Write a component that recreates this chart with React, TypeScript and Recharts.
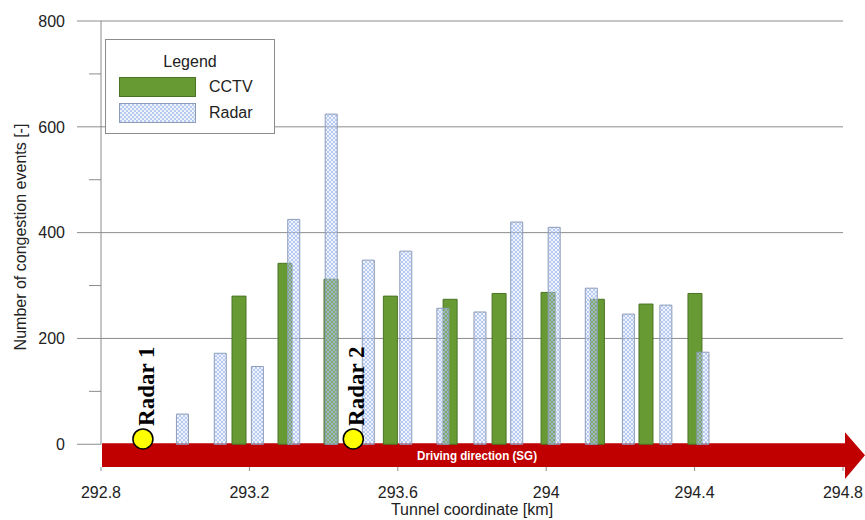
import React from 'react';
import {
  BarChart,
  Bar,
  XAxis,
  YAxis,
  CartesianGrid,
  ReferenceArea,
  ReferenceDot,
  ReferenceLine,
  Legend,
} from 'recharts';

// ---- data ----
const cctvKm = [293.172, 293.296, 293.42, 293.58, 293.741, 293.873, 294.005, 294.138, 294.269, 294.401];
const cctvEvents = [280, 342, 312, 280, 274, 285, 287, 274, 265, 285];

const radarKm = [293.02, 293.122, 293.222, 293.32, 293.421, 293.521, 293.622, 293.722, 293.822, 293.921, 294.022, 294.122, 294.222, 294.323, 294.423];
const radarEvents = [57, 172, 147, 425, 624, 348, 365, 257, 250, 420, 410, 295, 246, 263, 174];

const sensorKm = [292.913, 293.48];
const sensorLabels = ['Radar 1', 'Radar 2'];
const sensorLevel = 10;

const xTicks = [292.8, 293.2, 293.6, 294, 294.4, 294.8];
const yTicks = [0, 100, 200, 300, 400, 500, 600, 700, 800];
const yGridValues = [200, 400, 600, 800];
const xDomain = [292.8, 294.8];
const yDomain = [-43, 800];

const cctvName = 'CCTV';
const radarName = 'Radar';
const legendTitle = 'Legend';
const arrowText = 'Driving direction (SG)';
const xTitle = 'Tunnel coordinate [km]';
const yTitle = 'Number of congestion events [-]';

const rowCount = Math.max(cctvKm.length, radarKm.length);
const rows = Array.from({ length: rowCount }, (_, i) => ({
  kmC: cctvKm[i],
  cctv: cctvEvents[i],
  kmR: radarKm[i],
  radar: radarEvents[i],
}));

const GREEN = '#689a34';
const GREEN_STROKE = '#4b7326';
const RADAR_STROKE = '#8c9cba';
const AXIS_GRAY = '#8c8c8c';
const TEXT = '#222';

const YTick = (props: any) => {
  const { x, y, payload } = props;
  const v = payload.value;
  const major = v % 200 === 0;
  return (
    <g>
      <line x1={x - (major ? 24 : 12)} x2={x} y1={y} y2={y} stroke={AXIS_GRAY} strokeWidth={1} />
      {major && (
        <text x={x - 36} y={y} dy="0.36em" textAnchor="end" fill={TEXT} fontSize={16}>
          {v}
        </text>
      )}
    </g>
  );
};

const YTitle = (props: any) => {
  const vb = props.viewBox || { x: 0, y: 21, width: 101, height: 446 };
  const cx = vb.x + 20;
  const cy = vb.y + vb.height / 2 - 7;
  return (
    <text
      x={cx}
      y={cy}
      transform={`rotate(-90 ${cx} ${cy})`}
      textAnchor="middle"
      dominantBaseline="central"
      fill={TEXT}
      fontSize={16}
    >
      {yTitle}
    </text>
  );
};

const ArrowShape = (props: any) => {
  const { x, y, width, height } = props;
  const top = y - 1;
  const bottom = y + height;
  const right = x + width + 2;
  const tip = right + 20;
  const mid = (top + bottom) / 2;
  const pts = [
    [x + 1, top],
    [right, top],
    [right, top - 11],
    [tip, mid],
    [right, bottom + 12],
    [right, bottom],
    [x + 1, bottom],
  ]
    .map((p) => p.join(','))
    .join(' ');
  return (
    <g>
      <polygon points={pts} fill="#c00000" />
      <text
        x={x + width / 2 + 5}
        y={mid}
        dominantBaseline="central"
        textAnchor="middle"
        fill="#fff"
        fontWeight="bold"
        fontSize={13}
        fontFamily="'Liberation Sans Narrow', 'Arial Narrow', 'Liberation Sans', Arial, sans-serif"
        textLength={120}
        lengthAdjust="spacingAndGlyphs"
      >
        {arrowText}
      </text>
    </g>
  );
};

const makeSensorLabel = (text: string) => (props: any) => {
  const vb = props.viewBox || { x: 0, y: 0, width: 20, height: 20 };
  const cx = vb.x + vb.width / 2;
  const X = cx + 11;
  const Y = vb.y - 3;
  return (
    <text
      x={X}
      y={Y}
      transform={`rotate(-90 ${X} ${Y})`}
      textAnchor="start"
      fill="#000"
      fontSize={23}
      fontWeight="bold"
      fontFamily="'Liberation Serif', 'Times New Roman', serif"
    >
      {text}
    </text>
  );
};

const strokeFor: Record<string, string> = { cctv: GREEN_STROKE, radar: RADAR_STROKE };

const renderLegend = (props: any) => {
  const payload = props.payload || [];
  return (
    <div
      style={{
        width: 170,
        height: 95,
        border: `1px solid ${AXIS_GRAY}`,
        boxSizing: 'border-box',
        background: '#fff',
        position: 'relative',
        fontSize: 16,
        color: TEXT,
        fontFamily: "'Liberation Sans', Arial, sans-serif",
      }}
    >
      <div style={{ position: 'absolute', top: 13, left: 0, width: '100%', textAlign: 'center', lineHeight: '18px' }}>
        {legendTitle}
      </div>
      {payload.map((p: any, i: number) => (
        <div
          key={p.value}
          style={{ position: 'absolute', left: 13, top: 37 + i * 26, height: 20, display: 'flex', alignItems: 'center' }}
        >
          <svg width={77} height={20} style={{ display: 'block' }}>
            <rect x={0.5} y={0.5} width={76} height={19} fill={p.color} stroke={strokeFor[p.dataKey] || AXIS_GRAY} />
          </svg>
          <span style={{ marginLeft: 13, lineHeight: '20px' }}>{p.value}</span>
        </div>
      ))}
    </div>
  );
};

export default function App() {
  return (
    <div
      style={{
        position: 'absolute',
        left: 0,
        top: 0,
        width: 865,
        height: 520,
        background: '#fff',
        fontFamily: "'Liberation Sans', Arial, sans-serif",
      }}
    >
      <BarChart width={865} height={520} data={rows} margin={{ top: 21, right: 22, bottom: 0, left: 0 }}>
        <defs>
          <pattern id="radarHatch" width="4" height="4" patternUnits="userSpaceOnUse">
            <rect width="4" height="4" fill="#c9daf8" fillOpacity={0.3} />
            <path d="M0 0L4 4M4 0L0 4" stroke="#a3bbea" strokeWidth={0.8} strokeOpacity={0.9} />
          </pattern>
        </defs>
        <CartesianGrid
          xAxisId="c"
          vertical={false}
          horizontalValues={yGridValues}
          stroke={AXIS_GRAY}
          strokeWidth={1}
        />
        <XAxis
          xAxisId="c"
          dataKey="kmC"
          type="number"
          domain={xDomain}
          ticks={xTicks}
          interval={0}
          allowDataOverflow
          axisLine={false}
          tickLine={{ stroke: AXIS_GRAY }}
          tickSize={4}
          tickMargin={16}
          tick={{ fill: TEXT, fontSize: 16 }}
          height={53}
          label={{ value: xTitle, position: 'insideBottom', offset: 5, fill: TEXT, fontSize: 16 }}
        />
        <XAxis xAxisId="r" dataKey="kmR" type="number" domain={xDomain} allowDataOverflow hide />
        <YAxis
          type="number"
          domain={yDomain}
          ticks={yTicks}
          interval={0}
          allowDataOverflow
          width={101}
          axisLine={false}
          tickLine={false}
          tickSize={0}
          tickMargin={0}
          tick={<YTick />}
          label={<YTitle />}
        />
        <ReferenceLine
          xAxisId="c"
          segment={[
            { x: xDomain[0], y: 0 },
            { x: xDomain[0], y: 800 },
          ]}
          stroke={AXIS_GRAY}
          strokeWidth={1}
        />
        <Bar
          xAxisId="c"
          dataKey="cctv"
          name={cctvName}
          fill={GREEN}
          stroke={GREEN_STROKE}
          strokeWidth={1}
          barSize={14}
          isAnimationActive={false}
        />
        <Bar
          xAxisId="r"
          dataKey="radar"
          name={radarName}
          fill="url(#radarHatch)"
          stroke={RADAR_STROKE}
          strokeWidth={1}
          barSize={12}
          isAnimationActive={false}
        />
        <ReferenceArea
          xAxisId="c"
          x1={xDomain[0]}
          x2={xDomain[1]}
          y1={yDomain[0]}
          y2={0}
          ifOverflow="visible"
          shape={ArrowShape}
        />
        {sensorKm.map((km, i) => (
          <ReferenceDot
            key={sensorLabels[i]}
            xAxisId="c"
            x={km}
            y={sensorLevel}
            r={10}
            fill="#ffff00"
            stroke="#000"
            strokeWidth={1.5}
            ifOverflow="visible"
            label={{ content: makeSensorLabel(sensorLabels[i]) }}
          />
        ))}
        <Legend
          layout="horizontal"
          verticalAlign="middle"
          align="center"
          wrapperStyle={{ position: 'absolute', left: 105, top: 39, width: 170, height: 95 }}
          content={renderLegend}
        />
      </BarChart>
    </div>
  );
}
